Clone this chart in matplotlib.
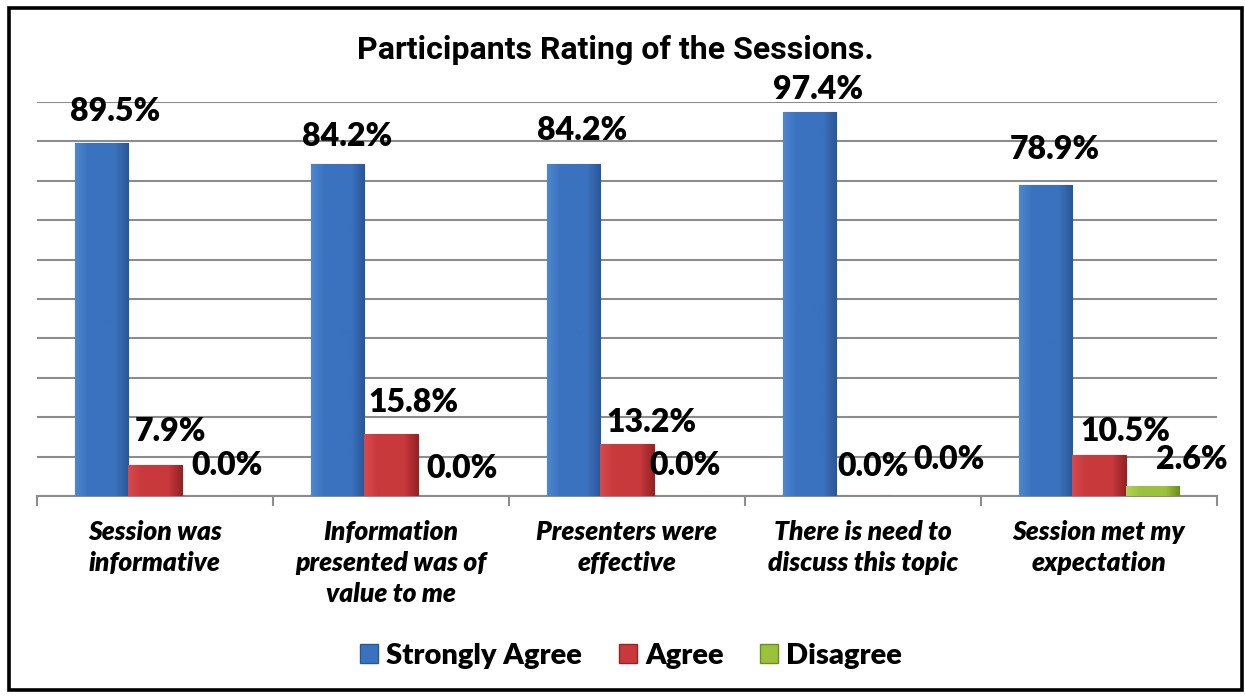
import numpy as np
import matplotlib.pyplot as plt
from matplotlib import font_manager
from matplotlib.colors import LinearSegmentedColormap
from matplotlib.patches import Patch, Rectangle

# data
categories = [
    "Session was\ninformative",
    "Information\npresented was of\nvalue to me",
    "Presenters were\neffective",
    "There is need to\ndiscuss this topic",
    "Session met my\nexpectation",
]
series = ["Strongly Agree", "Agree", "Disagree"]
strongly_agree = [89.5, 84.2, 84.2, 97.4, 78.9]
agree = [7.9, 15.8, 13.2, 0.0, 10.5]
disagree = [0.0, 0.0, 0.0, 0.0, 2.6]

# (light, mid, dark) shades per series
shades = [("#4f86cf", "#3b72bf", "#2a5797"),
          ("#d74a4c", "#c8393c", "#952325"),
          ("#aed25a", "#9bc23c", "#6c8d20")]

# where Excel left each data label, pixels from bar top centre
label_offsets = [
    [(13, 32), (9, 28), (8, 34), (8, 23), (9, 36)],
    [(16, 33), (23, 31), (25, 21), (10, 29), (26, 23)],
    [(19, 30), (18, 27), (5, 30), (33, 36), (40, 26)],
]


def bold_family(candidates):
    # first family that really has a bold face installed
    for name in candidates:
        for f in font_manager.fontManager.ttflist:
            if f.name == name and str(f.weight) in ("700", "bold"):
                return name
    return "DejaVu Sans"


label_family = bold_family(["Lato", "Noto Sans", "Open Sans", "Liberation Sans"])
title_family = bold_family(["Liberation Sans Narrow", "Roboto", "Liberation Sans"])

fig = plt.figure(figsize=(12.45, 6.96), dpi=100)
ax = fig.add_axes([0.0297, 0.2874, 0.9478, 0.566])

x = np.arange(len(categories))
width = 0.225
all_vals = [strongly_agree, agree, disagree]
for i, (name, vals) in enumerate(zip(series, all_vals)):
    light, mid, dark = shades[i]
    bars = ax.bar(x + (i - 1) * width, vals, width, color=mid,
                  edgecolor=dark, linewidth=0.8, zorder=3, label=name)
    cmap = LinearSegmentedColormap.from_list(name, [light, mid, mid, mid, dark])
    grad = np.linspace(0, 1, 64).reshape(1, -1)
    for j, (b, v) in enumerate(zip(bars, vals)):
        if v > 0:
            im = ax.imshow(grad, cmap=cmap, aspect="auto", zorder=3.5,
                           extent=(b.get_x(), b.get_x() + b.get_width(), 0, v))
            im.set_clip_path(b)
        dx, dy = label_offsets[i][j]
        ax.annotate(f"{v:.1f}%", (b.get_x() + b.get_width() / 2, v),
                    xytext=(dx, dy), textcoords="offset pixels",
                    ha="center", va="center", fontsize=23,
                    fontweight="heavy", family=label_family, zorder=5)

ax.set_xlim(-0.5, len(categories) - 0.5)
ax.set_ylim(0, 100)
ax.set_yticks(np.arange(0, 101, 10))
ax.yaxis.grid(True, color="#8c8c8c", linewidth=1.5, zorder=0)
ax.tick_params(axis="y", left=False, labelleft=False)

ax.set_xticks(np.arange(len(categories) + 1) - 0.5)
ax.set_xticklabels([])
ax.tick_params(axis="x", which="major", direction="out", length=7,
               width=1.5, color="#8c8c8c")
ax.set_xticks(x, minor=True)
ax.set_xticklabels(categories, minor=True, fontsize=19, fontweight="heavy",
                   style="italic", family=label_family, linespacing=1.37)
ax.tick_params(axis="x", which="minor", length=0, pad=17)

for s in ["top", "right", "left"]:
    ax.spines[s].set_visible(False)
ax.spines["bottom"].set_color("#8c8c8c")
ax.spines["bottom"].set_linewidth(1.5)

fig.text(0.494, 0.928, "Participants Rating of the Sessions.", ha="center",
         va="center", fontsize=23, fontweight="bold", family=title_family)

handles = [Patch(facecolor=s[1], edgecolor=s[2]) for s in shades]
fig.legend(handles, series, loc="center", bbox_to_anchor=(0.507, 0.058),
           ncol=3, frameon=False, handlelength=0.62, handleheight=0.62,
           handletextpad=0.28, columnspacing=1.25,
           prop={"family": label_family, "weight": "heavy", "size": 21})

fig.add_artist(Rectangle((0.0075, 0.0086), 0.99, 0.9804, transform=fig.transFigure,
                         fill=False, edgecolor="black", linewidth=2.6))

fig.savefig("out.png", dpi=100)
